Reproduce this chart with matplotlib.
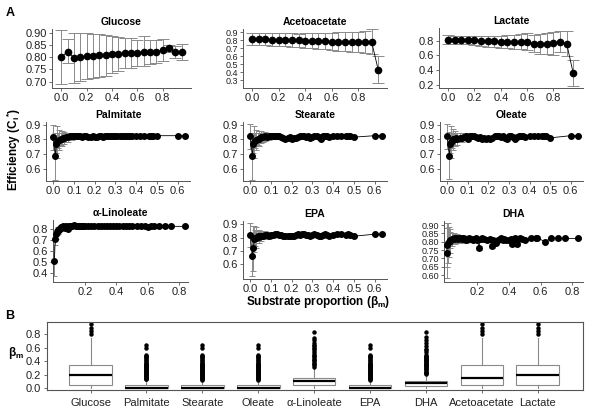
import matplotlib
matplotlib.use("Agg")
import matplotlib.pyplot as plt

plt.rcParams["font.family"] = ["Liberation Sans", "DejaVu Sans"]
plt.rcParams["mathtext.fontset"] = "custom"
plt.rcParams["mathtext.rm"] = "Liberation Sans"
plt.rcParams["mathtext.bf"] = "Liberation Sans:bold"
plt.rcParams["mathtext.it"] = "Liberation Sans:italic"

# ---- panel A, row 1: 0.05 grid ----
GRID_X = [0.0, 0.05, 0.1, 0.15, 0.2, 0.25, 0.3, 0.35, 0.4, 0.45,
          0.5, 0.55, 0.6, 0.65, 0.7, 0.75, 0.8, 0.85, 0.9, 0.95]

GLU_Y = [0.800, 0.823, 0.797, 0.800, 0.803, 0.806, 0.808, 0.808, 0.811, 0.814,
         0.817, 0.816, 0.818, 0.822, 0.822, 0.820, 0.830, 0.836, 0.820, 0.820]
GLU_LO = [0.690, 0.775, 0.695, 0.703, 0.710, 0.715, 0.720, 0.725, 0.735, 0.745,
          0.755, 0.755, 0.765, 0.762, 0.770, 0.775, 0.785, 0.822, 0.797, 0.790]
GLU_HI = [0.910, 0.873, 0.900, 0.898, 0.898, 0.895, 0.893, 0.890, 0.885, 0.883,
          0.880, 0.877, 0.870, 0.885, 0.872, 0.870, 0.875, 0.850, 0.845, 0.855]

ACE_Y = [0.815, 0.815, 0.815, 0.810, 0.810, 0.805, 0.800, 0.800, 0.795, 0.795,
         0.790, 0.790, 0.785, 0.785, 0.785, 0.780, 0.780, 0.780, 0.785, 0.430]
ACE_LO = [0.74, 0.74, 0.74, 0.73, 0.73, 0.73, 0.72, 0.72, 0.70, 0.70,
          0.69, 0.69, 0.68, 0.67, 0.67, 0.66, 0.66, 0.64, 0.63, 0.27]
ACE_HI = [0.89, 0.89, 0.89, 0.89, 0.89, 0.89, 0.89, 0.88, 0.89, 0.89,
          0.89, 0.89, 0.89, 0.90, 0.90, 0.91, 0.91, 0.92, 0.94, 0.60]

LAC_Y = [0.815, 0.810, 0.810, 0.810, 0.805, 0.800, 0.795, 0.790, 0.785, 0.785,
         0.780, 0.780, 0.785, 0.760, 0.750, 0.760, 0.765, 0.785, 0.760, 0.355]
LAC_LO = [0.76, 0.76, 0.75, 0.75, 0.74, 0.73, 0.72, 0.71, 0.70, 0.70,
          0.69, 0.68, 0.67, 0.64, 0.62, 0.62, 0.61, 0.65, 0.59, 0.18]
LAC_HI = [0.88, 0.87, 0.87, 0.87, 0.87, 0.87, 0.87, 0.87, 0.87, 0.88,
          0.88, 0.89, 0.90, 0.88, 0.89, 0.91, 0.92, 0.93, 0.93, 0.53]

# ---- panel A, fatty acids (shared beta grid) ----
FA_X = [0.0, 0.01, 0.015, 0.02, 0.025, 0.03, 0.035, 0.04, 0.045, 0.05,
        0.06, 0.07, 0.08, 0.09, 0.10, 0.11, 0.12, 0.13, 0.14, 0.15,
        0.16, 0.17, 0.18, 0.19, 0.20, 0.21, 0.22, 0.23, 0.24, 0.25,
        0.26, 0.27, 0.28, 0.29, 0.30, 0.31, 0.32, 0.33, 0.34, 0.35,
        0.36, 0.37, 0.38, 0.40, 0.42, 0.44, 0.46, 0.47, 0.48, 0.50,
        0.60, 0.635]
FA_ERR = [0.085, 0.160, 0.060, 0.110, 0.050, 0.070, 0.040, 0.050, 0.030, 0.040,
          0.030, 0.030, 0.020, 0.025, 0.015, 0.020, 0.010, 0.015, 0.010, 0.010,
          0.008, 0.008, 0.008, 0.006, 0.006, 0.006, 0.005, 0.005, 0.005, 0.005,
          0.005, 0.005, 0.005, 0.005, 0.005, 0.005, 0.005, 0.005, 0.005, 0.005,
          0.005, 0.005, 0.005, 0.004, 0.004, 0.004, 0.004, 0.004, 0.004, 0.004,
          0.003, 0.003]
PAL_Y = [0.815, 0.685, 0.770, 0.780, 0.790, 0.795, 0.800, 0.805, 0.810, 0.810,
         0.815, 0.815, 0.820, 0.820, 0.820, 0.820, 0.820, 0.820, 0.815, 0.820,
         0.820, 0.815, 0.815, 0.820, 0.815, 0.815, 0.820, 0.820, 0.815, 0.820,
         0.820, 0.825, 0.820, 0.820, 0.820, 0.825, 0.825, 0.820, 0.820, 0.825,
         0.820, 0.825, 0.825, 0.825, 0.825, 0.825, 0.825, 0.825, 0.820, 0.825,
         0.825, 0.825]
STE_Y = [0.820, 0.685, 0.770, 0.780, 0.790, 0.795, 0.800, 0.805, 0.810, 0.815,
         0.815, 0.820, 0.815, 0.820, 0.820, 0.825, 0.820, 0.825, 0.820, 0.815,
         0.810, 0.805, 0.810, 0.815, 0.805, 0.810, 0.810, 0.815, 0.820, 0.820,
         0.820, 0.815, 0.820, 0.810, 0.815, 0.820, 0.820, 0.815, 0.805, 0.820,
         0.820, 0.820, 0.815, 0.820, 0.825, 0.825, 0.820, 0.825, 0.820, 0.815,
         0.825, 0.825]
OLE_Y = [0.820, 0.690, 0.770, 0.780, 0.790, 0.800, 0.800, 0.805, 0.810, 0.805,
         0.810, 0.810, 0.815, 0.820, 0.805, 0.820, 0.825, 0.820, 0.815, 0.810,
         0.815, 0.805, 0.810, 0.800, 0.810, 0.805, 0.810, 0.820, 0.825, 0.820,
         0.815, 0.820, 0.810, 0.800, 0.820, 0.825, 0.815, 0.800, 0.815, 0.820,
         0.825, 0.820, 0.815, 0.820, 0.825, 0.825, 0.820, 0.825, 0.820, 0.810,
         0.825, 0.825]
EPA_Y = [0.820, 0.660, 0.720, 0.790, 0.795, 0.800, 0.810, 0.805, 0.815, 0.810,
         0.815, 0.820, 0.820, 0.815, 0.820, 0.820, 0.825, 0.825, 0.820, 0.820,
         0.815, 0.810, 0.810, 0.815, 0.810, 0.815, 0.820, 0.825, 0.820, 0.825,
         0.825, 0.820, 0.820, 0.815, 0.820, 0.825, 0.820, 0.815, 0.810, 0.820,
         0.825, 0.820, 0.815, 0.820, 0.825, 0.825, 0.820, 0.825, 0.820, 0.810,
         0.825, 0.825]
EPA_ERR = [0.090, 0.150, 0.170, 0.100, 0.060, 0.080, 0.040, 0.050, 0.030, 0.040,
           0.030, 0.030, 0.020, 0.025, 0.015, 0.020, 0.010, 0.015, 0.010, 0.010,
           0.008, 0.008, 0.008, 0.006, 0.006, 0.006, 0.005, 0.005, 0.005, 0.005,
           0.005, 0.005, 0.005, 0.005, 0.005, 0.005, 0.005, 0.005, 0.005, 0.005,
           0.005, 0.005, 0.005, 0.004, 0.004, 0.004, 0.004, 0.004, 0.004, 0.004,
           0.003, 0.003]

ALA_X = [0.005, 0.01, 0.015, 0.02, 0.025, 0.03, 0.035, 0.04, 0.045, 0.05,
         0.055, 0.06, 0.07, 0.08, 0.09, 0.10, 0.11, 0.12, 0.13, 0.14,
         0.15, 0.16, 0.17, 0.18, 0.19, 0.20, 0.22, 0.24, 0.26, 0.28,
         0.30, 0.32, 0.34, 0.36, 0.38, 0.40, 0.42, 0.44, 0.46, 0.48,
         0.50, 0.53, 0.56, 0.58, 0.60, 0.62, 0.64, 0.67, 0.71, 0.75,
         0.835]
ALA_Y = [0.510, 0.710, 0.750, 0.770, 0.780, 0.790, 0.795, 0.800, 0.805, 0.810,
         0.815, 0.820, 0.805, 0.825, 0.800, 0.825, 0.825, 0.825, 0.830, 0.825,
         0.825, 0.820, 0.825, 0.820, 0.825, 0.820, 0.820, 0.820, 0.820, 0.825,
         0.820, 0.820, 0.820, 0.820, 0.820, 0.825, 0.820, 0.820, 0.825, 0.820,
         0.820, 0.820, 0.825, 0.825, 0.815, 0.820, 0.825, 0.825, 0.820, 0.820,
         0.820]
ALA_ERR = [0.140, 0.060, 0.040, 0.030, 0.025, 0.020, 0.015, 0.015, 0.012, 0.012,
           0.010, 0.010, 0.010, 0.008, 0.010, 0.008, 0.006, 0.006, 0.006, 0.005,
           0.005, 0.005, 0.005, 0.005, 0.005, 0.005, 0.004, 0.004, 0.004, 0.004,
           0.004, 0.004, 0.004, 0.004, 0.004, 0.004, 0.004, 0.004, 0.004, 0.004,
           0.004, 0.004, 0.004, 0.004, 0.004, 0.004, 0.004, 0.004, 0.004, 0.004,
           0.003]

DHA_X = [0.005, 0.01, 0.015, 0.02, 0.025, 0.03, 0.04, 0.05, 0.06, 0.07,
         0.08, 0.09, 0.10, 0.11, 0.12, 0.13, 0.14, 0.15, 0.16, 0.17,
         0.18, 0.19, 0.20, 0.21, 0.22, 0.23, 0.24, 0.26, 0.28, 0.29,
         0.30, 0.32, 0.33, 0.34, 0.35, 0.36, 0.37, 0.38, 0.40, 0.41,
         0.42, 0.43, 0.44, 0.45, 0.46, 0.47, 0.48, 0.50, 0.54, 0.57,
         0.58, 0.625, 0.665, 0.71, 0.755, 0.835]
DHA_Y = [0.735, 0.780, 0.790, 0.800, 0.805, 0.810, 0.815, 0.820, 0.815, 0.820,
         0.815, 0.820, 0.815, 0.820, 0.815, 0.810, 0.815, 0.820, 0.815, 0.810,
         0.815, 0.820, 0.810, 0.765, 0.815, 0.820, 0.815, 0.810, 0.815, 0.775,
         0.810, 0.795, 0.810, 0.815, 0.820, 0.810, 0.815, 0.810, 0.810, 0.815,
         0.785, 0.815, 0.820, 0.785, 0.815, 0.820, 0.815, 0.810, 0.820, 0.825,
         0.825, 0.800, 0.820, 0.820, 0.820, 0.820]
DHA_ERR = [0.150, 0.130, 0.120, 0.090, 0.070, 0.050, 0.040, 0.030, 0.030, 0.025,
           0.025, 0.020, 0.020, 0.020, 0.015, 0.015, 0.015, 0.012, 0.012, 0.012,
           0.012, 0.010, 0.010, 0.012, 0.010, 0.010, 0.010, 0.010, 0.008, 0.010,
           0.008, 0.010, 0.008, 0.008, 0.008, 0.008, 0.008, 0.008, 0.008, 0.008,
           0.010, 0.008, 0.008, 0.010, 0.008, 0.008, 0.008, 0.008, 0.008, 0.008,
           0.008, 0.008, 0.008, 0.010, 0.006, 0.006]

# ---- panel B: beta_m distributions ----
BOX_NAMES = ["Glucose", "Palmitate", "Stearate", "Oleate", "\u03b1-Linoleate",
             "EPA", "DHA", "Acetoacetate", "Lactate"]
BOX_Q1 = [0.05, 0.0, 0.0, 0.0, 0.05, 0.0, 0.03, 0.05, 0.05]
BOX_MED = [0.20, 0.005, 0.005, 0.005, 0.10, 0.005, 0.07, 0.15, 0.20]
BOX_Q3 = [0.35, 0.05, 0.045, 0.045, 0.155, 0.04, 0.10, 0.35, 0.35]
BOX_WLO = [0.0, 0.0, 0.0, 0.0, 0.0, 0.0, 0.0, 0.0, 0.0]
BOX_WHI = [0.75, 0.12, 0.11, 0.11, 0.30, 0.11, 0.20, 0.75, 0.75]
BOX_SRC = [GRID_X, FA_X, FA_X, FA_X, ALA_X, FA_X, DHA_X, GRID_X, GRID_X]

W, H = 600, 415
fig = plt.figure(figsize=(6, 4.15), dpi=100)
AX_COL = "#555555"
ERR_COL = "#8a8a8a"


def px_axes(l, t, r, b):
    return fig.add_axes([l / W, 1 - b / H, (r - l) / W, (b - t) / H])


def style(ax, fs=8):
    for s in ("top", "right"):
        ax.spines[s].set_visible(False)
    for s in ("left", "bottom"):
        ax.spines[s].set_color(AX_COL)
        ax.spines[s].set_linewidth(0.7)
    ax.tick_params(length=2.5, width=0.6, color=AX_COL, labelsize=fs,
                   labelcolor="#222222", pad=1.2)


def panel(rect, title, x, y, lo, hi, xlim, ylim, yticks, yfmt, xticks, cap, ms, yfs=8):
    ax = px_axes(*rect)
    style(ax)
    ax.errorbar(x, y, yerr=[lo, hi], fmt="none", ecolor=ERR_COL,
                elinewidth=0.7, capsize=cap, capthick=0.7, zorder=1)
    ax.plot(x, y, color="black", lw=0.6, zorder=2)
    ax.plot(x, y, "o", color="black", ms=ms, zorder=3, clip_on=False)
    ax.set_xlim(*xlim)
    ax.set_ylim(*ylim)
    ax.set_yticks(yticks)
    ax.set_yticklabels([yfmt % v for v in yticks])
    ax.tick_params(axis="y", labelsize=yfs)
    ax.set_xticks(xticks)
    ax.set_xticklabels(["%.1f" % v for v in xticks])
    ax.set_title(title, fontsize=7.5, fontweight="bold", pad=3)
    return ax


def diff(a, b):
    return [abs(p - q) for p, q in zip(a, b)]


X20 = [0.0, 0.2, 0.4, 0.6, 0.8]
X10 = [0.0, 0.1, 0.2, 0.3, 0.4, 0.5, 0.6]
X_HI = [0.2, 0.4, 0.6, 0.8]

panel((52, 29, 191, 88), "Glucose", GRID_X, GLU_Y, diff(GLU_Y, GLU_LO), diff(GLU_HI, GLU_Y),
      (-0.073, 1.023), (0.674, 0.915), [0.70, 0.75, 0.80, 0.85, 0.90], "%.2f", X20, 4.3, 4.5)
panel((243, 29, 387, 88), "Acetoacetate", GRID_X, ACE_Y, diff(ACE_Y, ACE_LO), diff(ACE_HI, ACE_Y),
      (-0.068, 1.016), (0.205, 0.943), [0.3, 0.4, 0.5, 0.6, 0.7, 0.8, 0.9], "%.1f", X20, 4.3, 4.5,
      yfs=6.5)
panel((439, 28, 583, 88), "Lactate", GRID_X, LAC_Y, diff(LAC_Y, LAC_LO), diff(LAC_HI, LAC_Y),
      (-0.069, 1.024), (0.155, 0.973), [0.2, 0.4, 0.6, 0.8], "%.1f", X20, 4.3, 4.5)

fa_lim = (-0.035, 0.66)
panel((46, 122, 190, 181), "Palmitate", FA_X, PAL_Y, FA_ERR, FA_ERR,
      fa_lim, (0.517, 0.918), [0.6, 0.7, 0.8, 0.9], "%.1f", X10, 2.5, 4.0)
panel((243, 122, 387, 181), "Stearate", FA_X, STE_Y, FA_ERR, FA_ERR,
      fa_lim, (0.517, 0.918), [0.6, 0.7, 0.8, 0.9], "%.1f", X10, 2.5, 4.0)
panel((440, 122, 583, 181), "Oleate", FA_X, OLE_Y, FA_ERR, FA_ERR,
      fa_lim, (0.517, 0.918), [0.6, 0.7, 0.8, 0.9], "%.1f", X10, 2.5, 4.0)

panel((53, 220, 188, 282), "\u03b1-Linoleate", ALA_X, ALA_Y, ALA_ERR, ALA_ERR,
      (-0.004, 0.857), (0.32, 0.877), [0.4, 0.5, 0.6, 0.7, 0.8], "%.1f", X_HI, 2.5, 4.0)
panel((243, 221, 387, 279), "EPA", FA_X, EPA_Y, EPA_ERR, EPA_ERR,
      fa_lim, (0.486, 0.925), [0.6, 0.7, 0.8, 0.9], "%.1f", X10, 2.5, 4.0)
panel((444, 221, 583, 282), "DHA", DHA_X, DHA_Y, DHA_ERR, DHA_ERR,
      (-0.011, 0.868), (0.559, 0.924), [0.60, 0.65, 0.70, 0.75, 0.80, 0.85, 0.90], "%.2f",
      X_HI, 2.5, 4.0, yfs=6.5)

fig.text(14 / W, 1 - 150 / H, "Efficiency (C$_\\mathbf{i}$$^\\mathbf{*}$)", rotation=90,
         ha="center", va="center", fontsize=8.5, fontweight="bold")
fig.text(318 / W, 1 - 302 / H, "Substrate proportion (\u03b2$_\\mathbf{m}$)",
         ha="center", va="center", fontsize=8.5, fontweight="bold")
fig.text(10 / W, 1 - 13 / H, "A", ha="center", va="center", fontsize=9, fontweight="bold")
fig.text(10 / W, 1 - 316 / H, "B", ha="center", va="center", fontsize=9, fontweight="bold")

# ---- panel B ----
axb = px_axes(47, 322, 583, 390)
stats = []
for i, name in enumerate(BOX_NAMES):
    fl = [v for v in BOX_SRC[i] if v > BOX_WHI[i]]
    stats.append(dict(label=name, q1=BOX_Q1[i], med=BOX_MED[i], q3=BOX_Q3[i],
                      whislo=BOX_WLO[i], whishi=BOX_WHI[i], fliers=fl))
axb.bxp(stats, positions=range(1, len(stats) + 1), widths=0.76, showcaps=False,
        patch_artist=True,
        boxprops=dict(facecolor="white", edgecolor="#8a8a8a", linewidth=0.8),
        medianprops=dict(color="black", linewidth=1.6),
        whiskerprops=dict(color="#8a8a8a", linewidth=0.8),
        flierprops=dict(marker="o", markerfacecolor="black", markeredgecolor="black",
                        markersize=2.2))
axb.set_xlim(0.22, 9.81)
axb.set_ylim(-0.03, 0.986)
axb.set_yticks([0.0, 0.2, 0.4, 0.6, 0.8])
axb.set_yticklabels(["%.1f" % v for v in [0.0, 0.2, 0.4, 0.6, 0.8]])
axb.set_xticks(range(1, len(BOX_NAMES) + 1))
axb.set_xticklabels(BOX_NAMES)
for s in axb.spines.values():
    s.set_color(AX_COL)
    s.set_linewidth(0.8)
axb.tick_params(length=2.5, width=0.6, color=AX_COL, labelsize=8,
                labelcolor="#222222", pad=2)
axb.tick_params(axis="x", labelsize=8, pad=3)
fig.text(16 / W, 1 - 353 / H, "\u03b2$_\\mathbf{m}$", ha="center", va="center",
         fontsize=8.5, fontweight="bold")

fig.savefig("out.png", dpi=100)
